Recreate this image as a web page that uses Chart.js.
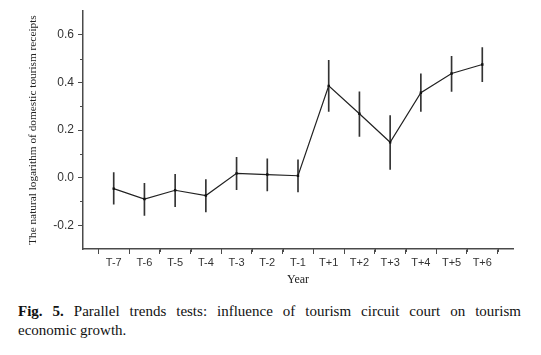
<!DOCTYPE html>
<html>
<head>
<meta charset="utf-8">
<script src="https://cdn.jsdelivr.net/npm/chart.js@4.4.1/dist/chart.umd.min.js"></script>
<style>
  html, body { margin: 0; padding: 0; background: #fff; }
  body { width: 541px; height: 355px; position: relative; overflow: hidden; }
  #wrap { position: absolute; left: 0; top: 0; width: 541px; height: 290px; }
  #caption {
    position: absolute; left: 18px; top: 302px; width: 503px;
    font-family: "Liberation Serif", "Times New Roman", serif;
    font-size: 15px; line-height: 19px; color: #111;
  }
  #caption .l1 { text-align: justify; text-align-last: justify; }
</style>
</head>
<body>
<div id="wrap"><canvas id="c" width="541" height="290"></canvas></div>
<div id="caption"><div class="l1"><b>Fig. 5.</b> Parallel trends tests: influence of tourism circuit court on tourism</div><div>economic growth.</div></div>
<script>
const categories = ['T-7','T-6','T-5','T-4','T-3','T-2','T-1','T+1','T+2','T+3','T+4','T+5','T+6'];
const coefficients = [-0.046, -0.090, -0.053, -0.075, 0.018, 0.013, 0.008, 0.386, 0.269, 0.149, 0.357, 0.438, 0.476];
const lowerBounds  = [-0.112, -0.159, -0.122, -0.144, -0.051, -0.056, -0.060, 0.279, 0.173, 0.035, 0.279, 0.363, 0.404];
const upperBounds  = [0.021, -0.024, 0.014, -0.008, 0.086, 0.079, 0.075, 0.493, 0.361, 0.261, 0.437, 0.510, 0.547];
const yMajorTicks = [-0.2, 0.0, 0.2, 0.4, 0.6];
const yMinorTicks = [-0.1, 0.1, 0.3, 0.5];
const xMinorTicks = [0.5, 1.5, 2.5, 3.5, 4.5, 5.5, 6.5, 7.5, 8.5, 9.5, 10.5, 11.5, 12.5, 13.5];

const axisColor = '#4a4a4a';

const minorTicksPlugin = {
  id: 'minorTicks',
  afterDraw(chart) {
    const ctx = chart.ctx;
    const xs = chart.scales.x, ys = chart.scales.y;
    ctx.save();
    ctx.strokeStyle = axisColor;
    ctx.lineWidth = 1;
    ctx.beginPath();
    yMinorTicks.forEach(v => {
      const py = Math.round(ys.getPixelForValue(v)) + 0.5;
      ctx.moveTo(ys.right - 3, py);
      ctx.lineTo(ys.right, py);
    });
    xMinorTicks.forEach(v => {
      const px = Math.round(xs.getPixelForValue(v)) + 0.5;
      ctx.moveTo(px, xs.top);
      ctx.lineTo(px, xs.top + 3);
    });
    ctx.stroke();
    ctx.restore();
  }
};

new Chart(document.getElementById('c'), {
  type: 'line',
  data: {
    datasets: [
      {
        type: 'line',
        data: categories.map((c, i) => ({ x: i + 1, y: coefficients[i] })),
        borderColor: '#222',
        borderWidth: 1.2,
        pointRadius: 1.7,
        pointStyle: 'rect',
        pointBackgroundColor: '#111',
        pointBorderWidth: 0,
        tension: 0,
        order: 0
      },
      {
        type: 'bar',
        data: categories.map((c, i) => ({ x: i + 1, y: [lowerBounds[i], upperBounds[i]] })),
        backgroundColor: '#333',
        borderWidth: 0,
        barThickness: 1,
        order: 1
      }
    ]
  },
  options: {
    responsive: false,
    animation: false,
    devicePixelRatio: 1,
    layout: { padding: { top: 11, right: 28, left: 0, bottom: 0 } },
    plugins: { legend: { display: false }, tooltip: { enabled: false } },
    scales: {
      x: {
        type: 'linear',
        min: 0, max: 14,
        offset: false,
        afterBuildTicks: s => { s.ticks = categories.map((c, i) => ({ value: i + 1 })); },
        afterFit: s => { s.height = 41; },
        ticks: {
          autoSkip: false, maxRotation: 0,
          padding: 2,
          color: '#333',
          font: { family: 'Liberation Sans, Arial, sans-serif', size: 11 },
          callback: v => categories[v - 1]
        },
        grid: { drawOnChartArea: false, drawTicks: true, tickLength: 5, color: axisColor },
        border: { display: true, color: axisColor, width: 1.5 },
        title: {
          display: true, text: 'Year', color: '#222',
          font: { family: 'Liberation Serif, Times New Roman, serif', size: 12 },
          padding: { top: 0, bottom: 3 }
        }
      },
      y: {
        type: 'linear',
        min: -0.3, max: 0.7,
        afterBuildTicks: s => { s.ticks = yMajorTicks.map(v => ({ value: v })); },
        afterFit: s => { s.width = 83; },
        ticks: {
          padding: 4,
          color: '#333',
          font: { family: 'Liberation Sans, Arial, sans-serif', size: 12 },
          callback: v => v.toFixed(1)
        },
        grid: { drawOnChartArea: false, drawTicks: true, tickLength: 5, color: axisColor },
        border: { display: true, color: axisColor, width: 1.5 },
        title: {
          display: true, text: 'The natural logarithm of domestic tourism receipts', color: '#222',
          font: { family: 'Liberation Serif, Times New Roman, serif', size: 11.3 },
          padding: { top: 26, bottom: 0 }
        }
      }
    }
  },
  plugins: [minorTicksPlugin]
});
</script>
</body>
</html>
